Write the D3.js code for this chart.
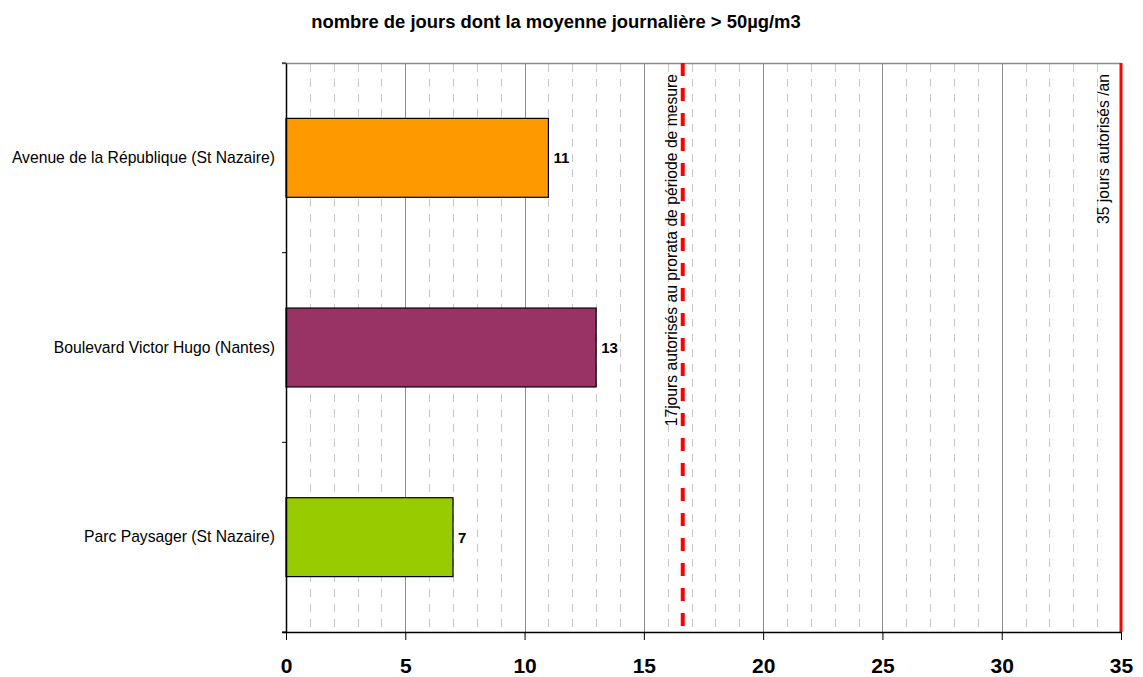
<!DOCTYPE html>
<html>
<head>
<meta charset="utf-8">
<script src="https://cdn.jsdelivr.net/npm/d3@7"></script>
<style>
  body { margin: 0; background: #fff; }
  svg { display: block; font-family: Arial, "Liberation Sans", sans-serif; }
</style>
</head>
<body>
<svg id="chart" width="1143" height="677"></svg>
<script>
var categories = ["Avenue de la République (St Nazaire)", "Boulevard Victor Hugo (Nantes)", "Parc Paysager (St Nazaire)"];
var values = [11, 13, 7];
var barColors = ["#FF9900", "#993366", "#99CC00"];
var xTicks = [0, 5, 10, 15, 20, 25, 30, 35];
var limitValues = [16.63, 35];
var limitLabels = ["17jours autorisés au prorata de période de mesure", "35 jours autorisés /an"];

var svg = d3.select("#chart");
var margin = { top: 63, right: 22, bottom: 45, left: 286 };
var width = 1143 - margin.left - margin.right;
var height = 677 - margin.top - margin.bottom;

var x = d3.scaleLinear().domain([0, 35]).range([0, width]);
var y = d3.scaleBand().domain(categories).range([0, height]).paddingInner(0.584).paddingOuter(0.292);

svg.append("text")
  .attr("x", 556).attr("y", 28)
  .attr("text-anchor", "middle")
  .attr("font-size", 18.4).attr("font-weight", "bold")
  .text("nombre de jours dont la moyenne journalière > 50µg/m3");

var g = svg.append("g").attr("transform", "translate(" + margin.left + "," + margin.top + ")");

// minor grid (every 1)
g.selectAll("line.minor").data(d3.range(1, 35).filter(function(d) { return d % 5 !== 0; }))
  .enter().append("line")
  .attr("class", "minor")
  .attr("x1", function(d) { return Math.round(x(d)) + 0.5; })
  .attr("x2", function(d) { return Math.round(x(d)) + 0.5; })
  .attr("y1", 1).attr("y2", height)
  .attr("stroke", "#c8c8c8")
  .attr("stroke-dasharray", "8,7");

// major grid (every 5)
g.selectAll("line.major").data(xTicks.slice(1, -1))
  .enter().append("line")
  .attr("class", "major")
  .attr("x1", function(d) { return Math.round(x(d)) + 0.5; })
  .attr("x2", function(d) { return Math.round(x(d)) + 0.5; })
  .attr("y1", 0).attr("y2", height)
  .attr("stroke", "#8c8c8c");

// top border
g.append("line")
  .attr("x1", -4).attr("x2", width).attr("y1", 0.5).attr("y2", 0.5)
  .attr("stroke", "#8c8c8c").attr("stroke-width", 1.5);

// bars
g.selectAll("rect.bar").data(values)
  .enter().append("rect")
  .attr("class", "bar")
  .attr("x", 0)
  .attr("y", function(d, i) { return y(categories[i]); })
  .attr("width", function(d) { return x(d); })
  .attr("height", y.bandwidth())
  .attr("fill", function(d, i) { return barColors[i]; })
  .attr("stroke", "#000").attr("stroke-width", 1.2);

// value labels
g.selectAll("text.val").data(values)
  .enter().append("text")
  .attr("class", "val")
  .attr("x", function(d) { return x(d) + 5; })
  .attr("y", function(d, i) { return y(categories[i]) + y.bandwidth() / 2; })
  .attr("dy", "0.36em")
  .attr("font-size", 15).attr("font-weight", "bold")
  .text(function(d) { return d; });

// limit lines
limitValues.forEach(function(v, i) {
  var dashed = i === 0;
  var lx = x(v);
  g.append("line")
    .attr("x1", lx).attr("x2", lx).attr("y1", 0).attr("y2", height)
    .attr("stroke", "#ff0000")
    .attr("stroke-width", dashed ? 4 : 3)
    .attr("stroke-dasharray", dashed ? "13,12" : null);
  g.append("text")
    .attr("transform", "translate(" + (lx - (dashed ? 6 : 12)) + ",11) rotate(-90)")
    .attr("text-anchor", "end")
    .attr("font-size", 15.7)
    .text(limitLabels[i]);
});

// y axis
var yAxis = g.append("g")
  .call(d3.axisLeft(y).tickSize(0).tickPadding(11).tickFormat(function(d) { return d; }));
yAxis.select(".domain").attr("stroke", "#000").attr("stroke-width", 1.5);
yAxis.selectAll("text").attr("font-size", 15.7).attr("fill", "#000").attr("font-family", "Arial, 'Liberation Sans', sans-serif");

var boundaries = [0, 1, 2, 3];
g.selectAll("line.ytick").data(boundaries)
  .enter().append("line")
  .attr("x1", -4).attr("x2", 0)
  .attr("y1", function(d) { return d * height / 3; })
  .attr("y2", function(d) { return d * height / 3; })
  .attr("stroke", "#000");

// x axis
var xAxis = g.append("g")
  .attr("transform", "translate(0," + height + ")")
  .call(d3.axisBottom(x).tickValues(xTicks).tickSize(8).tickSizeOuter(0).tickPadding(18));
xAxis.select(".domain").attr("stroke", "#000").attr("stroke-width", 1.5).attr("d", "M-4,0.5H" + width);
xAxis.selectAll(".tick line").attr("stroke", "#000");
xAxis.selectAll("text").attr("font-size", 21).attr("font-weight", "bold").attr("fill", "#000")
  .attr("font-family", "Arial, 'Liberation Sans', sans-serif");
</script>
</body>
</html>
